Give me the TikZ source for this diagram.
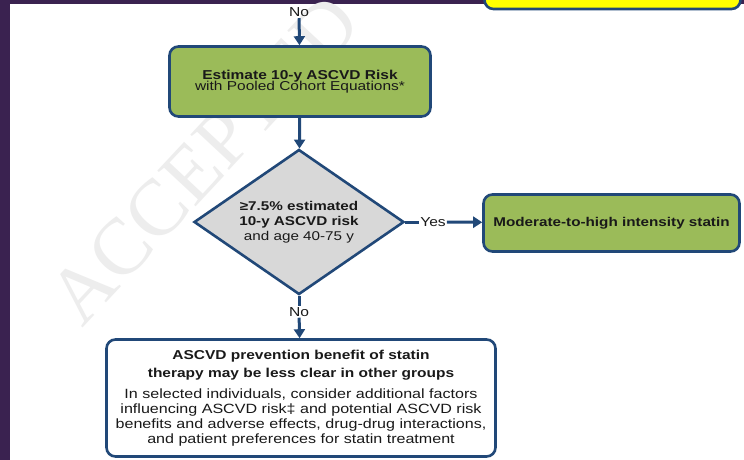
\documentclass[tikz,border=0pt]{standalone}
\usepackage{fontspec}
\setmainfont[FakeStretch=1.2]{Liberation Sans}
\newfontfamily\shuiyinfont{Liberation Serif}
\usetikzlibrary{shapes.geometric, arrows.meta}
\definecolor{zise}{RGB}{58,34,80}
\definecolor{lanbian}{RGB}{33,72,120}
\definecolor{caolv}{RGB}{155,187,89}
\definecolor{qianhui}{RGB}{216,216,216}
\definecolor{huang}{RGB}{255,255,0}
\definecolor{zihei}{RGB}{25,25,25}
\newcommand{\zihao}[2]{\fontsize{#1}{#2}\selectfont\lineskiplimit=-20pt}
\tikzset{ %框和箭头
    kuang/.style={draw=lanbian, line width=2.6pt, rounded corners=9pt, align=center, inner sep=0pt, text=zihei},
    lvkuang/.style={kuang, fill=caolv},
    jiantou/.style={draw=lanbian, line width=3pt, -{Triangle[length=9pt, width=11pt]}},
    xian/.style={draw=lanbian, line width=3pt},
    biaoqian/.style={inner sep=1pt, text=zihei, font=\zihao{13}{14}},
}

\begin{document}
\begin{tikzpicture}[x=1pt, y=-1pt]
    \useasboundingbox (0,0) rectangle (744,460);
    \fill[zise] (0,0) rectangle (744,460);
    \fill[white] (10,4) rectangle (744,460);
    \node[rotate=47, text=black!7, font=\shuiyinfont\fontsize{80}{80}\selectfont] (shuiyin) at (204,160) {ACCEPTED};
    %上面的黄框
    \node[kuang, fill=huang, minimum width=256pt, minimum height=40pt] (huangkuang) at (612.5,-11) {};
    \node[biaoqian] (fou1) at (299,12.5) {No};
    \node[lvkuang, minimum width=261pt, minimum height=70pt, font=\zihao{12.9}{10.7}] (gusuan) at (300,81.5)
        {\textbf{Estimate 10-y ASCVD Risk}\\with Pooled Cohort Equations*};
    \node[draw=lanbian, line width=2.6pt, fill=qianhui, diamond, shape aspect=1.44, minimum width=210pt, minimum height=145pt, inner sep=0pt, align=center, text=zihei, font=\zihao{12.7}{15}] (panduan) at (299,222)
        {\textbf{≥7.5\% estimated}\\\textbf{10-y ASCVD risk}\\and age 40-75 y};
    \node[biaoqian] (shi) at (433,222) {Yes};
    \node[lvkuang, minimum width=256pt, minimum height=57pt, font=\zihao{12.7}{15}] (qiang) at (611.5,223)
        {\textbf{Moderate-to-high intensity statin}};
    \node[biaoqian] (fou2) at (299,312) {No};
    \node[kuang, fill=white, minimum width=389pt, minimum height=117pt, font=\zihao{13.4}{15}] (qita) at (301,398)
        {{\bfseries\fontsize{12.9}{15}\selectfont ASCVD prevention benefit of statin}\\[3.7pt]
         {\bfseries\fontsize{12.9}{15}\selectfont therapy may be less clear in other groups}\\[5.7pt]
         In selected individuals, consider additional factors\\
         influencing ASCVD risk‡ and potential ASCVD risk\\
         benefits and adverse effects, drug-drug interactions,\\
         and patient preferences for statin treatment};
    %连线
    \draw[jiantou] (fou1) -- (gusuan);
    \draw[jiantou] (gusuan) -- (panduan);
    \draw[xian] (panduan.east) -- (shi.west);
    \draw[jiantou] (shi) -- (qiang);
    \draw[xian] (panduan.south) -- (fou2.north);
    \draw[jiantou] (fou2) -- (qita);
\end{tikzpicture}
\end{document}
